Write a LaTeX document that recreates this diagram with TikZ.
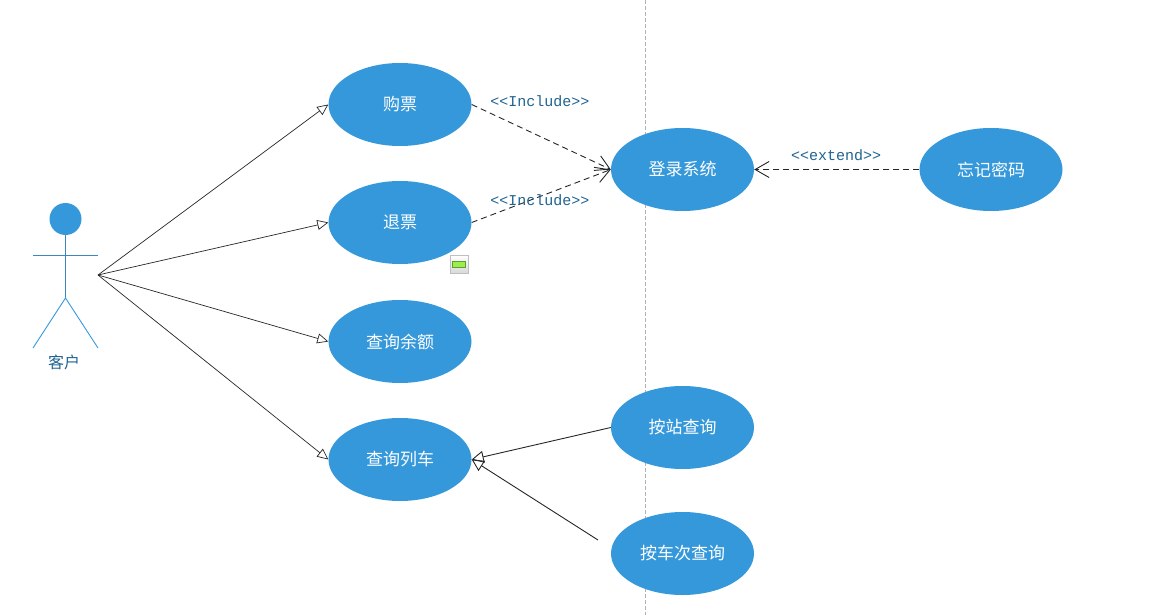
\documentclass[tikz,border=0pt]{standalone}
\usepackage{fontspec}
\setmainfont{Noto Sans CJK SC}
\setmonofont{Liberation Mono}
\usepackage{xcolor}
\usetikzlibrary{arrows.meta, positioning, shapes.geometric}
\definecolor{caseblue}{HTML}{3498DB}
\definecolor{labelblue}{HTML}{1F6391}
\definecolor{limbblue}{HTML}{3C88BC}
\definecolor{barfill}{HTML}{9BEE4C}
\definecolor{barline}{HTML}{5E9E2E}
\tikzset{
  usecase/.style={ellipse, fill=caseblue, text=white, minimum width=143pt, minimum height=83pt, inner sep=0pt, font=\fontsize{17}{17}\selectfont},
  stereo/.style={text=labelblue, inner sep=0pt, font=\ttfamily\fontsize{15}{15}\selectfont},
  assoc/.style={-{Triangle[open, length=11pt, width=10pt]}, black!85, line width=0.7pt},
  depend/.style={-{Straight Barb[length=14pt, width=16pt]}, black!85, line width=0.9pt, dash pattern=on 6pt off 4pt},
  general/.style={-{Triangle[open, length=12pt, width=12pt]}, black!85, line width=0.9pt},
  limb/.style={caseblue, line width=0.9pt}
}
\begin{document}
\begin{tikzpicture}[x=1pt, y=-1pt]
  \useasboundingbox (0,0) rectangle (1157,615);
  % System boundary
  \draw[black!30, line width=0.7pt, dash pattern=on 4pt off 2pt] (645,0) -- (645,615);
  % Use cases
  \node[usecase] (buy) at (400,104.5) {购票};
  \node[usecase] (refund) at (400,222.5) {退票};
  \node[usecase] (balance) at (400,341.5) {查询余额};
  \node[usecase] (train) at (400,459.5) {查询列车};
  \node[usecase] (login) at (682.5,169.5) {登录系统};
  \node[usecase] (forgot) at (991,169.5) {忘记密码};
  \node[usecase] (bystation) at (682.5,427.5) {按站查询};
  \node[usecase] (bynumber) at (682.5,553.5) {按车次查询};
  % Actor
  \node[circle, fill=caseblue, minimum size=32pt, inner sep=0pt] (head) at (65.5,219) {};
  \coordinate (hip) at (65.5,298);
  \coordinate (armL) at (33,255);
  \coordinate (armR) at (98,255);
  \coordinate (footL) at (33,348);
  \coordinate (footR) at (98,348);
  \draw[limb, limbblue] (head) -- (hip);
  \draw[limb, limbblue] (armL) -- (armR);
  \draw[limb] (footL) -- (hip) -- (footR);
  \node[text=labelblue, inner sep=0pt, font=\fontsize{16}{16}\selectfont] (customer) at (64,362) {客户};
  % Actor associations
  \coordinate (hub) at (98,275);
  \foreach \c in {buy,refund,balance,train} {
    \draw[assoc] (hub) -- (\c.west);
  }
  % Include and extend
  \draw[depend] (buy.east) -- (login.west);
  \draw[depend] (refund.east) -- (login.west);
  \draw[depend] (forgot.west) -- (login.east);
  \node[stereo] (inc1) at (540,101) {<{}<Include>{}>};
  \node[stereo] (inc2) at (540,200) {<{}<Include>{}>};
  \node[stereo] (ext) at (836,155) {<{}<extend>{}>};
  % Generalisation
  \coordinate (numberend) at (598,540);
  \draw[general] (bystation.west) -- (train.east);
  \draw[general] (numberend) -- (train.east);
  % Small marker
  \node[draw=black!25, top color=white, bottom color=black!15, minimum size=18pt, inner sep=0pt] (marker) at (459,264) {};
  \node[draw=barline, fill=barfill, minimum width=13pt, minimum height=6pt, inner sep=0pt] (markerbar) at (marker.center) {};
\end{tikzpicture}
\end{document}
